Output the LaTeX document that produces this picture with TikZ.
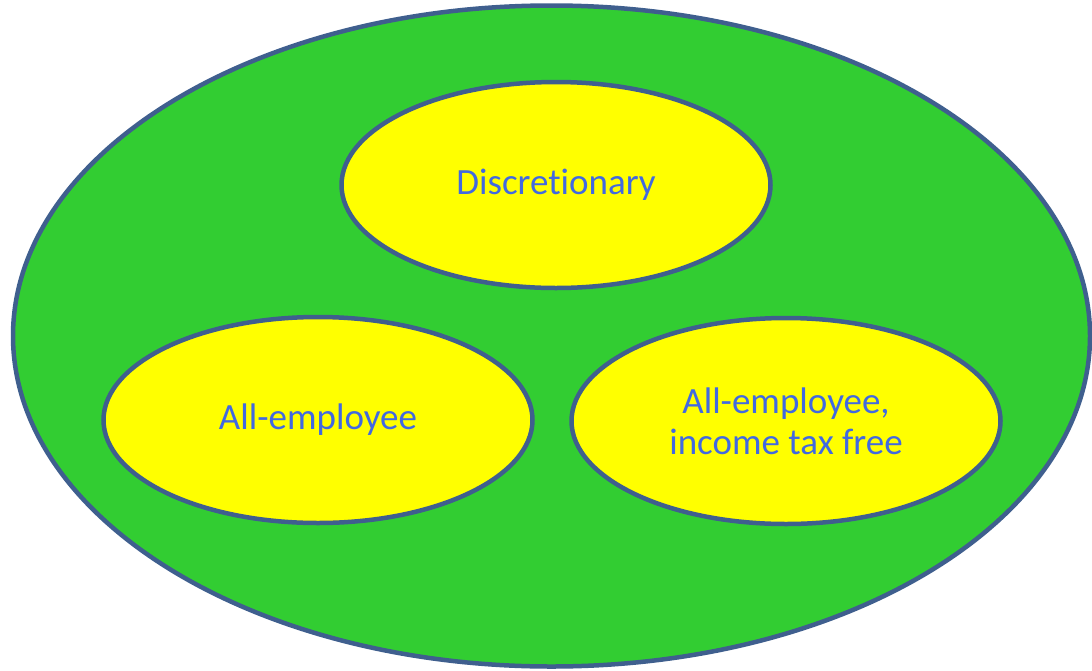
\documentclass[tikz,border=0pt]{standalone}
\usepackage{fontspec}
\setmainfont{Carlito}[Ligatures=NoCommon]
\usetikzlibrary{shapes.geometric}
\definecolor{EdgeBlue}{RGB}{63,95,142}
\definecolor{SchemeGreen}{RGB}{50,205,50}
\definecolor{SchemeYellow}{RGB}{255,255,0}
\definecolor{LabelBlue}{RGB}{65,105,225}
\tikzset{
  outerset/.style={draw=EdgeBlue,ellipse,line width=4.5pt,fill=SchemeGreen,
    minimum width=1077pt,minimum height=661pt,inner sep=0pt},
  planset/.style={draw=EdgeBlue,ellipse,line width=4.5pt,fill=SchemeYellow,
    minimum width=429pt,minimum height=206pt,inner sep=0pt,align=center,
    text=LabelBlue,font=\fontsize{37}{41}\selectfont},
}

\begin{document}
\begin{tikzpicture}[x=1pt,y=-1pt]
  \useasboundingbox (0,0) rectangle (1092,670);
  \node[outerset] (schemes) at (551.5,336) {};
  \node[planset] (disc) at (556,185) {Discretionary};
  \node[planset] (allemp) at (318,420) {All-employee};
  \node[planset] (taxfree) at (786,421) {All-employee,\\income tax free};
\end{tikzpicture}
\end{document}
